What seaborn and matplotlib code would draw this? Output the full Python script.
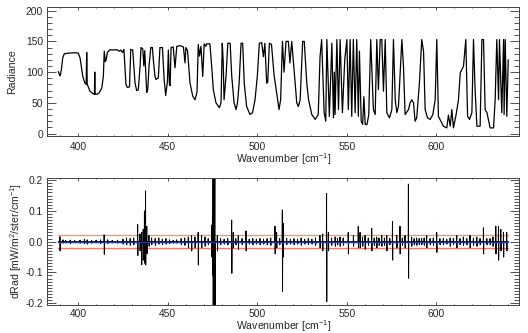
import numpy as np
import pandas as pd
import seaborn as sns
import matplotlib
matplotlib.use("Agg")
import matplotlib.pyplot as plt
from matplotlib.ticker import MultipleLocator, FormatStrFormatter

# ---- spectrum vertices: wavenumber [cm-1] and radiance ----
wn = [388.8, 389.5, 389.9, 390.6, 391.3, 392.2, 395.0, 398.0, 400.0, 401.0,
      402.5, 403.7, 404.4, 404.7, 405.0, 405.3, 406.5, 408.4, 409.0, 409.2,
      409.4, 410.5, 411.6, 413.1, 414.0, 414.5, 415.1, 415.6, 416.2, 417.7,
      419.0, 421.5, 423.0, 423.7, 424.8, 425.5, 426.6, 427.4, 428.6, 429.3,
      430.4, 431.7, 432.6, 433.5, 434.5, 435.0, 436.0, 436.6, 437.1, 438.2,
      438.8, 439.5, 440.5, 441.4, 441.9, 442.8, 443.3, 444.7, 445.6, 447.0,
      447.9, 448.8, 449.8, 450.3, 450.9, 451.3, 451.8, 453.0, 454.0, 455.0,
      456.8, 458.7, 459.6, 460.1, 461.0, 462.4, 463.9, 465.2, 466.3, 467.0,
      467.7, 468.5, 469.5, 470.3, 471.2, 471.7, 473.5, 474.5, 475.4, 476.9,
      478.8, 479.7, 480.4, 480.9, 481.4, 482.5, 483.5, 484.8, 485.7, 487.0,
      488.1, 488.9, 489.8, 490.9, 491.8, 492.7, 494.0, 495.9, 497.3, 498.7,
      500.0, 501.1, 502.4, 503.4, 504.2, 505.2, 505.8, 506.7, 507.9, 509.3,
      510.8, 512.1, 513.0, 514.0, 514.9, 516.0, 517.3, 518.2, 519.2, 521.1,
      522.0, 522.9, 523.9, 525.3, 526.2, 527.6, 528.6, 530.4, 532.3, 534.0,
      535.0, 535.9, 537.3, 538.2, 538.8, 540.2, 541.6, 542.5, 543.0, 543.4,
      544.4, 545.3, 546.2, 547.5, 548.8, 550.0, 550.8, 551.8, 552.7, 553.6,
      554.6, 555.5, 556.4, 557.0, 558.0, 558.8, 559.5, 560.2, 561.2, 562.2,
      563.3, 564.8, 565.8, 566.7, 567.6, 568.6, 569.5, 570.4, 571.4, 572.3,
      573.8, 575.1, 576.0, 577.0, 577.9, 578.8, 580.7, 581.6, 582.5, 584.4,
      585.3, 586.2, 587.2, 588.1, 589.0, 590.5, 591.8, 592.8, 593.7, 595.0,
      596.5, 598.0, 599.3, 600.2, 601.1, 603.9, 605.8, 606.7, 607.7, 608.6,
      609.5, 611.0, 612.3, 613.3, 615.1, 616.4, 617.4, 618.5, 619.8, 620.7,
      621.6, 622.6, 624.4, 625.4, 626.3, 627.2, 628.2, 630.0, 631.9, 632.8,
      633.7, 634.7, 635.2, 636.5, 637.5, 637.8, 638.4, 639.3, 640.1]
radiance = [101, 96, 94, 105, 123, 130, 131, 131.5, 131, 123,
            93, 82, 80, 132, 80, 78, 69, 64.5, 64, 100,
            64, 64, 66, 74, 93, 134, 117, 120, 132, 136.5,
            136, 136.5, 134, 136, 132, 137, 80, 75, 76, 137,
            136, 82, 70, 71, 109, 140, 138, 110, 135, 67,
            72, 110, 140, 140, 120, 94, 88, 90.5, 140, 140,
            90, 62, 85, 136, 80, 78, 140, 141, 107, 142,
            143, 141, 115, 140, 135, 82, 61, 55, 68, 145,
            126, 142, 93, 146, 142, 146, 146, 109, 71.5, 50,
            42, 50, 147, 120, 55, 93, 147, 147, 93, 50,
            39, 50, 81, 147, 147, 81, 44, 31, 34, 55,
            94, 147, 148, 125, 147, 82, 84, 147, 145, 96,
            66, 39, 55, 150, 100, 150, 150, 115, 150, 82,
            50, 44, 55, 150, 150, 82, 55, 31, 23, 31,
            125, 153, 34, 20, 153, 28, 147, 25.5, 100, 31,
            153, 39, 153, 34, 120, 153, 39, 153, 28, 153,
            34, 153, 28, 134, 20, 15, 60, 15, 14.6, 30,
            153, 39, 31, 153, 71.5, 153, 153, 69, 153, 34,
            25.5, 39, 153, 55, 34, 44, 153, 109, 31, 39,
            50, 55, 50, 20, 25.5, 82.5, 153, 134, 39, 25.5,
            23, 31, 55, 153, 28, 12, 9.2, 30, 12, 39,
            9.2, 31, 55, 99, 109.5, 153, 28, 23, 34, 153,
            71.5, 12, 12, 153, 153, 39, 34, 9.2, 9.2, 55,
            153, 55, 153, 34, 153, 31, 153, 28, 120]

# ---- residual features: centre, positive and negative excursion ----
res_wn = [389.8, 391.5, 393.0, 395.5, 398.0, 401.0, 403.5, 405.0, 407.5, 410.0,
          412.5, 414.5, 416.5, 419.0, 422.0, 425.0, 427.0, 429.0, 431.0, 433.2,
          434.5, 435.4, 436.3, 437.0, 437.6, 438.3, 439.5, 441.0, 443.0, 445.0,
          447.0, 449.0, 451.0, 453.0, 455.0, 457.5, 459.5, 461.5, 463.3, 465.2,
          467.0, 468.9, 470.8, 472.6, 474.5, 475.0, 475.3, 475.8, 476.3, 477.7,
          479.5, 481.5, 483.5, 485.7, 486.6, 488.0, 489.4, 491.5, 493.7, 495.5,
          497.5, 499.5, 501.5, 503.5, 505.5, 507.5, 509.9, 510.8, 512.5, 514.0,
          514.5, 516.4, 518.5, 520.5, 522.5, 524.5, 526.5, 528.5, 530.5, 532.5,
          535.0, 536.5, 538.7, 539.7, 541.5, 543.5, 544.8, 546.2, 548.0, 550.8,
          553.7, 556.4, 557.4, 558.8, 560.2, 562.0, 563.9, 565.3, 566.7, 568.0,
          569.5, 571.0, 572.3, 574.0, 575.5, 577.9, 579.7, 581.0, 582.5, 584.4,
          586.2, 587.6, 589.0, 590.4, 591.8, 593.2, 594.6, 596.5, 598.3, 600.2,
          602.0, 603.9, 605.8, 607.7, 609.5, 611.4, 613.2, 615.1, 617.0, 618.8,
          620.7, 622.6, 624.4, 626.3, 628.2, 630.0, 631.6, 633.2, 634.7, 636.0,
          637.5, 639.3]
res_hi = [0.016, 0.006, 0.004, 0.005, 0.004, 0.005, 0.008, 0.006, 0.004, 0.005,
          0.006, 0.022, 0.006, 0.004, 0.005, 0.008, 0.012, 0.010, 0.012, 0.056,
          0.025, 0.030, 0.040, 0.100, 0.165, 0.050, 0.020, 0.012, 0.010, 0.012,
          0.008, 0.010, 0.006, 0.004, 0.006, 0.010, 0.012, 0.015, 0.020, 0.015,
          0.030, 0.020, 0.015, 0.010, 0.054, 0.100, 0.250, 0.250, 0.220, 0.020,
          0.010, 0.008, 0.010, 0.070, 0.030, 0.010, 0.020, 0.010, 0.035, 0.008,
          0.010, 0.008, 0.010, 0.008, 0.010, 0.012, 0.050, 0.030, 0.010, 0.103,
          0.060, 0.010, 0.008, 0.010, 0.008, 0.012, 0.008, 0.010, 0.008, 0.012,
          0.020, 0.025, 0.157, 0.030, 0.012, 0.015, 0.010, 0.015, 0.012, 0.030,
          0.020, 0.050, 0.030, 0.015, 0.020, 0.012, 0.043, 0.012, 0.015, 0.012,
          0.020, 0.012, 0.020, 0.010, 0.065, 0.020, 0.050, 0.012, 0.020, 0.187,
          0.015, 0.010, 0.012, 0.010, 0.010, 0.012, 0.020, 0.010, 0.012, 0.030,
          0.010, 0.010, 0.008, 0.012, 0.010, 0.020, 0.010, 0.015, 0.010, 0.020,
          0.012, 0.015, 0.010, 0.045, 0.010, 0.010, 0.015, 0.050, 0.050, 0.040,
          0.030, 0.030]
res_lo = [-0.030, -0.005, -0.004, -0.006, -0.003, -0.005, -0.006, -0.008, -0.005, -0.004,
          -0.006, -0.041, -0.006, -0.004, -0.005, -0.008, -0.010, -0.012, -0.010, -0.045,
          -0.030, -0.075, -0.060, -0.070, -0.076, -0.040, -0.015, -0.010, -0.012, -0.008,
          -0.010, -0.008, -0.006, -0.005, -0.005, -0.010, -0.012, -0.020, -0.030, -0.020,
          -0.076, -0.020, -0.015, -0.010, -0.050, -0.110, -0.250, -0.250, -0.250, -0.030,
          -0.010, -0.008, -0.010, -0.103, -0.020, -0.010, -0.025, -0.010, -0.030, -0.008,
          -0.010, -0.008, -0.010, -0.008, -0.010, -0.012, -0.040, -0.020, -0.010, -0.162,
          -0.050, -0.010, -0.008, -0.010, -0.008, -0.012, -0.008, -0.010, -0.008, -0.012,
          -0.020, -0.030, -0.195, -0.030, -0.012, -0.015, -0.010, -0.015, -0.012, -0.040,
          -0.015, -0.020, -0.020, -0.015, -0.025, -0.012, -0.030, -0.012, -0.020, -0.012,
          -0.015, -0.012, -0.030, -0.010, -0.060, -0.020, -0.040, -0.012, -0.020, -0.119,
          -0.015, -0.010, -0.012, -0.010, -0.010, -0.012, -0.020, -0.010, -0.012, -0.035,
          -0.010, -0.010, -0.008, -0.015, -0.010, -0.020, -0.010, -0.012, -0.010, -0.020,
          -0.012, -0.015, -0.010, -0.040, -0.010, -0.010, -0.015, -0.040, -0.060, -0.030,
          -0.050, -0.030]
res_band = 0.02
wn_start, wn_end = 388.8, 640.1

# polyline through each residual feature: up, down, back to zero
res_x, res_y = [wn_start], [0.0]
for c, hi, lo in zip(res_wn, res_hi, res_lo):
    res_x += [c - 0.15, c - 0.05, c + 0.05, c + 0.15]
    res_y += [0.0, hi, lo, 0.0]
res_x.append(wn_end)
res_y.append(0.0)

spec = pd.DataFrame({"wn": wn, "rad": radiance})
resid = pd.DataFrame({"wn": res_x, "drad": res_y})

sns.set_theme(style="white")
plt.rcParams["font.family"] = ["Liberation Sans", "DejaVu Sans"]
plt.rcParams["mathtext.fontset"] = "custom"
plt.rcParams["mathtext.rm"] = "Liberation Sans"
plt.rcParams["mathtext.it"] = "Liberation Sans:italic"
plt.rcParams["mathtext.default"] = "regular"

fig = plt.figure(figsize=(5.28, 3.33), dpi=100)
ax1 = fig.add_axes([0.0896, 0.5916, 0.894, 0.3874])
ax2 = fig.add_axes([0.0896, 0.0841, 0.894, 0.3823])

sns.lineplot(data=spec, x="wn", y="rad", ax=ax1, sort=False, estimator=None,
             color="black", lw=0.9)

ax2.plot([wn_start, wn_end], [res_band, res_band], color="#ee9688", lw=1.0, zorder=1)
ax2.plot([wn_start, wn_end], [-res_band, -res_band], color="#ec7e6a", lw=1.0, zorder=1)
sns.lineplot(data=resid, x="wn", y="drad", ax=ax2, sort=False, estimator=None,
             color="black", lw=0.7, zorder=2)
ax2.plot([wn_start, wn_end], [0, 0], color="#1c3c94", lw=1.0, zorder=3)

tick_fs = 7.4
label_fs = 7.6
xlim = (382.7, 646.3)
for ax in (ax1, ax2):
    ax.set_xlim(*xlim)
    ax.xaxis.set_major_locator(MultipleLocator(50))
    ax.xaxis.set_minor_locator(MultipleLocator(10))
    ax.tick_params(axis="x", which="major", direction="in", length=1.9, width=0.6,
                   top=True, bottom=True, labelsize=tick_fs, pad=4, color="#333333")
    ax.tick_params(axis="x", which="minor", direction="in", length=1.0, width=0.6,
                   top=True, bottom=True, color="#333333")
    ax.tick_params(axis="y", which="major", direction="in", length=6.8, width=0.6,
                   left=True, right=True, labelsize=tick_fs, pad=3, color="#333333")
    ax.tick_params(axis="y", which="minor", direction="in", length=3.4, width=0.6,
                   left=True, right=True, color="#333333")
    for s in ax.spines.values():
        s.set_color("#444444")
        s.set_linewidth(0.7)
    ax.grid(False)

# the lower panel sits close to the figure edge: tighten its x labels
ax2.tick_params(axis="x", which="major", pad=3)
ax1.set_xlabel("Wavenumber [cm$^{-1}$]", fontsize=label_fs, labelpad=-0.5)
ax2.set_xlabel("Wavenumber [cm$^{-1}$]", fontsize=label_fs, labelpad=-1.0)

ax1.set_ylim(-4, 206)
ax1.yaxis.set_major_locator(MultipleLocator(50))
ax1.yaxis.set_minor_locator(MultipleLocator(10))
ax1.set_ylabel("Radiance", fontsize=label_fs, labelpad=6)

ax2.set_ylim(-0.206, 0.208)
ax2.yaxis.set_major_locator(MultipleLocator(0.1))
ax2.yaxis.set_minor_locator(MultipleLocator(0.01))
ax2.yaxis.set_major_formatter(FormatStrFormatter("%.1f"))
ax2.set_ylabel("dRad [mW/m$^2$/ster/cm$^{-1}$]", fontsize=label_fs, labelpad=1)

fig.savefig("out.png", dpi=100)
